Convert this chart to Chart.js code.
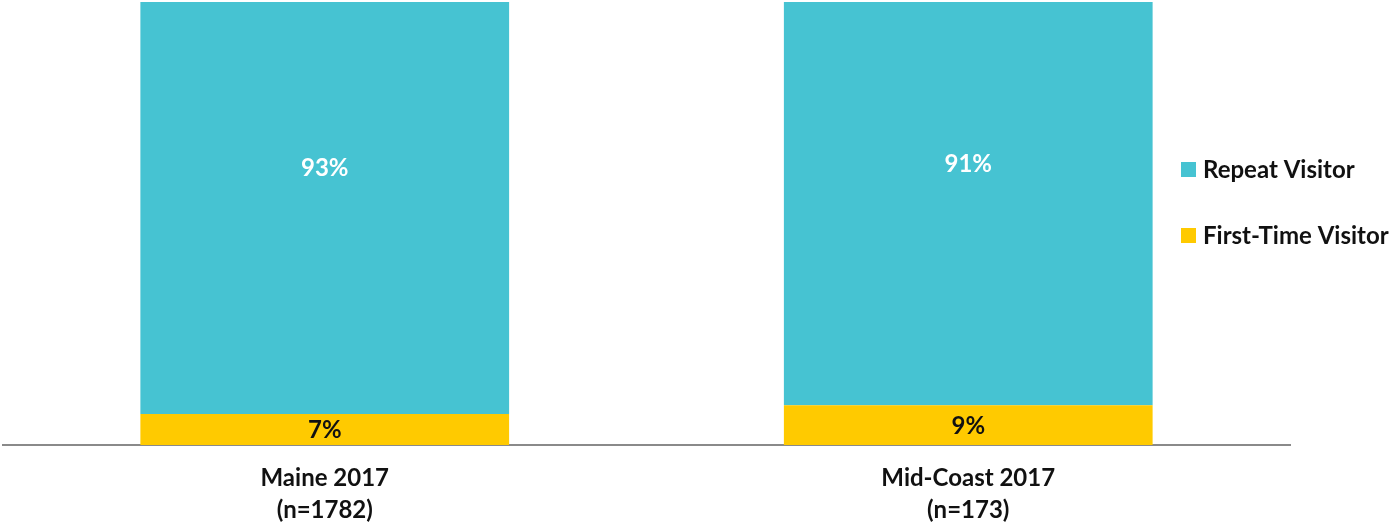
<!DOCTYPE html>
<html>
<head>
<meta charset="utf-8">
<script src="https://cdn.jsdelivr.net/npm/chart.js@4/dist/chart.umd.min.js"></script>
<style>
  html, body { margin: 0; padding: 0; background: #fff; }
  #wrap { width: 1390px; height: 525px; }
</style>
</head>
<body>
<div id="wrap"><canvas id="chart" width="1390" height="525"></canvas></div>
<script>
const categories = [["Maine 2017", "(n=1782)"], ["Mid-Coast 2017", "(n=173)"]];
const firstTime = [7, 9];
const repeat = [93, 91];
const seriesNames = ["First-Time Visitor", "Repeat Visitor"];
const seriesColors = ["#FFCA00", "#46C3D2"];
const labelColors = ["#111111", "#ffffff"];

const FONT = "Lato, Carlito, 'Noto Sans', sans-serif";

// value labels inside the bar segments
const barLabels = {
  id: "barLabels",
  afterDatasetsDraw(chart) {
    const ctx = chart.ctx;
    ctx.save();
    ctx.font = "bold 24px " + FONT;
    ctx.textAlign = "center";
    ctx.textBaseline = "middle";
    chart.data.datasets.forEach((ds, i) => {
      const meta = chart.getDatasetMeta(i);
      meta.data.forEach((bar, j) => {
        const top = Math.min(bar.y, bar.base);
        const bottom = Math.max(bar.y, bar.base);
        // top segment label sits a bit above the middle, like the original
        const y = i === 1 ? top + (bottom - top) * 0.4 : (top + bottom) / 2;
        ctx.fillStyle = labelColors[i];
        ctx.fillText(ds.data[j] + "%", bar.x, y + 1);
      });
    });
    ctx.restore();
  }
};

// legend on the right, top series first
const sideLegend = {
  id: "sideLegend",
  afterDraw(chart) {
    const ctx = chart.ctx;
    ctx.save();
    ctx.font = "bold 24px " + FONT;
    ctx.textBaseline = "middle";
    const order = [1, 0];
    order.forEach((i, k) => {
      const y = 169.5 + k * 66;
      ctx.fillStyle = chart.data.datasets[i].backgroundColor;
      ctx.fillRect(1181, y - 7.5, 15, 15);
      ctx.fillStyle = "#111111";
      ctx.fillText(chart.data.datasets[i].label, 1203, y + 1);
    });
    ctx.restore();
  }
};

new Chart(document.getElementById("chart").getContext("2d"), {
  type: "bar",
  data: {
    labels: categories,
    datasets: [
      { label: seriesNames[0], data: firstTime, backgroundColor: seriesColors[0] },
      { label: seriesNames[1], data: repeat, backgroundColor: seriesColors[1] }
    ]
  },
  options: {
    responsive: false,
    animation: false,
    layout: { padding: { left: 3, right: 100, top: 2, bottom: 0 } },
    plugins: {
      legend: { display: false },
      tooltip: { enabled: false }
    },
    datasets: {
      bar: { barPercentage: 1, categoryPercentage: 0.573 }
    },
    scales: {
      x: {
        stacked: true,
        grid: { display: false, drawTicks: false },
        border: { display: true, color: "#8a8a8a", width: 2 },
        ticks: {
          color: "#111111",
          font: { family: FONT, size: 24, weight: "bold", lineHeight: 1.3 },
          padding: 18,
          maxRotation: 0
        },
        afterFit(scale) { scale.height = 80; }
      },
      y: {
        stacked: true,
        display: false,
        min: 0,
        max: 100
      }
    }
  },
  plugins: [barLabels, sideLegend]
});
</script>
</body>
</html>
